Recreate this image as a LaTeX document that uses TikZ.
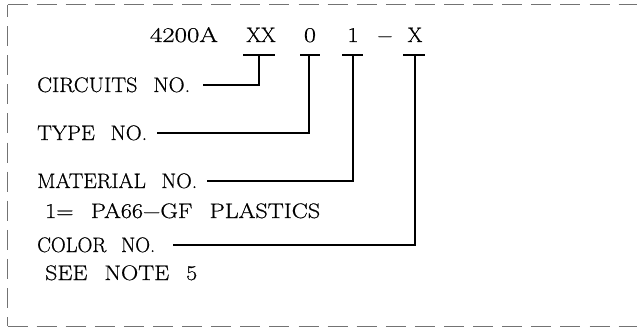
\documentclass[tikz,border=0pt]{standalone}
\usepackage{fontspec}
\usepackage{graphicx}
\newfontfamily\labfont{Latin Modern Roman}[FakeBold=0.6]
\newcommand\gapw{\hspace{15pt}}
\newcommand\fitw[2]{\resizebox{#1}{\height}{#2}}
\begin{document}
\begin{tikzpicture}[x=1pt,y=-1pt,
  lab/.style={font=\labfont\fontsize{21}{24}\selectfont, inner sep=0pt},
  conn/.style={line width=1.1pt, draw=black},
  framedash/.style={line width=1pt, draw=black!55, dash pattern=on 20pt off 9.1pt}]
\useasboundingbox (0,0) rectangle (637,329);
% dashed frame
\draw[framedash] (7.5,5) -- (637,5);
\draw[framedash, dash phase=8pt] (7.5,5) -- (7.5,326);
\draw[framedash] (7.5,326) -- (637,326);
% part number
\node[lab,anchor=base] (p4200) at (184,42) {\fitw{68pt}{4200A}};
\node[lab,anchor=base] (pxx) at (261,42) {XX};
\node[lab,anchor=base] (pzero) at (310,42) {\fitw{12pt}{0}};
\node[lab,anchor=base] (pone) at (353,42) {\fitw{11pt}{1}};
\node[lab,anchor=base] (pdash) at (385,42) {−};
\node[lab,anchor=base] (px) at (415,42) {X};
% underbars
\draw[conn] (243,55) -- (275,55);
\draw[conn] (300,55) -- (320,55);
\draw[conn] (342,55) -- (363,55);
\draw[conn] (403,55) -- (425,55);
\coordinate (bxx) at (259,55);
\coordinate (bzero) at (309,55);
\coordinate (bone) at (353,55);
\coordinate (bx) at (415,55);
% labels
\node[lab,anchor=base west] (lcirc) at (37,92) {\fitw{153pt}{CIRCUITS\gapw NO.}};
\node[lab,anchor=base west] (ltype) at (37,140) {\fitw{110pt}{TYPE\gapw NO.}};
\node[lab,anchor=base west] (lmat) at (37,188) {\fitw{160pt}{MATERIAL\gapw NO.}};
\node[lab,anchor=base west] (lmat2) at (45,218) {\fitw{275pt}{1=\gapw PA66−GF\gapw PLASTICS}};
\node[lab,anchor=base west] (lcol) at (37,252) {\fitw{118pt}{COLOR\gapw NO.}};
\node[lab,anchor=base west] (lcol2) at (45,280) {\fitw{152pt}{SEE\gapw NOTE\gapw 5}};
% connector ends
\coordinate (ecirc) at (203,85);
\coordinate (etype) at (157,133);
\coordinate (emat) at (207,181);
\coordinate (ecol) at (173,245);
\draw[conn] (bxx) |- (ecirc);
\draw[conn] (bzero) |- (etype);
\draw[conn] (bone) |- (emat);
\draw[conn] (bx) |- (ecol);
\end{tikzpicture}
\end{document}
